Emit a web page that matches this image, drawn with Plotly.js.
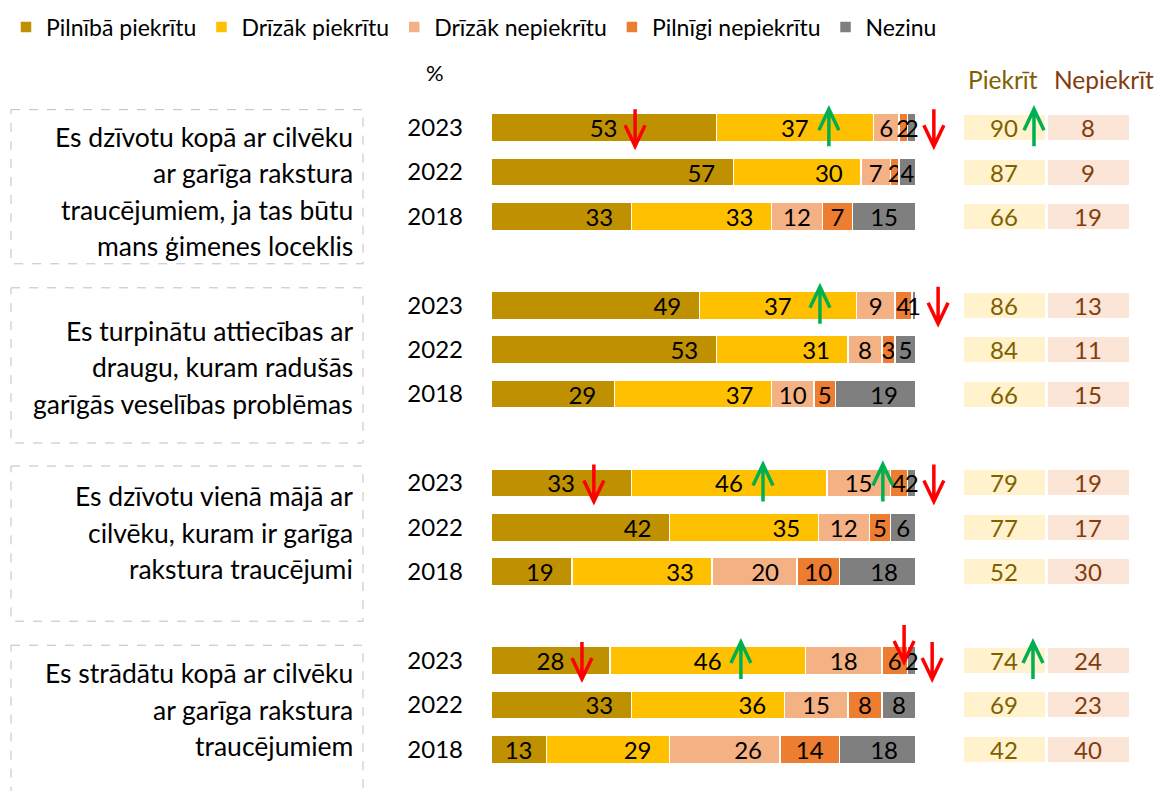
<!DOCTYPE html>
<html>
<head>
<meta charset="utf-8">
<script src="https://cdn.plot.ly/plotly-3.0.1.min.js"></script>
<style>html,body{margin:0;padding:0;background:#fff;}#chart{width:1159px;height:791px;}</style>
</head>
<body>
<div id="chart"></div>
<script>
// ---------- DATA ----------
const statements = [
  ['Es dzīvotu kopā ar cilvēku', 'ar garīga rakstura', 'traucējumiem, ja tas būtu', 'mans ģimenes loceklis'],
  ['Es turpinātu attiecības ar', 'draugu, kuram radušās', 'garīgās veselības problēmas'],
  ['Es dzīvotu vienā mājā ar', 'cilvēku, kuram ir garīga', 'rakstura traucējumi'],
  ['Es strādātu kopā ar cilvēku', 'ar garīga rakstura', 'traucējumiem']
];
const years = ['2023', '2022', '2018'];
const seriesNames = ['Pilnībā piekrītu', 'Drīzāk piekrītu', 'Drīzāk nepiekrītu', 'Pilnīgi nepiekrītu', 'Nezinu'];
// values per row: statement 1 (2023, 2022, 2018), statement 2 (...), ...
const pilnibaPiekritu   = [53, 57, 33, 49, 53, 29, 33, 42, 19, 28, 33, 13];
const drizakPiekritu    = [37, 30, 33, 37, 31, 37, 46, 35, 33, 46, 36, 29];
const drizakNepiekritu  = [ 6,  7, 12,  9,  8, 10, 15, 12, 20, 18, 15, 26];
const pilnigiNepiekritu = [ 2,  2,  7,  4,  3,  5,  4,  5, 10,  6,  8, 14];
const nezinu            = [ 2,  4, 15,  1,  5, 19,  2,  6, 18,  2,  8, 18];
const piekrit   = [90, 87, 66, 86, 84, 66, 79, 77, 52, 74, 69, 42];
const nepiekrit = [ 8,  9, 19, 13, 11, 15, 19, 17, 30, 24, 23, 40];
// trend markers: row index, position on axis, direction
const trendMarks = [
  {row: 0, axis: 'x',  at: 33.9,  dir: 'down'},
  {row: 0, axis: 'x',  at: 79.5,  dir: 'up'},
  {row: 0, axis: 'x',  at: 104.2, dir: 'down'},
  {row: 0, axis: 'x2', at: 0.857, dir: 'up'},
  {row: 4, axis: 'x',  at: 77.4,  dir: 'up'},
  {row: 4, axis: 'x',  at: 105.2, dir: 'down'},
  {row: 8, axis: 'x',  at: 24.2,  dir: 'down'},
  {row: 8, axis: 'x',  at: 64.0,  dir: 'up'},
  {row: 8, axis: 'x',  at: 92.2,  dir: 'up'},
  {row: 8, axis: 'x',  at: 104.2, dir: 'down'},
  {row: 12, axis: 'x', at: 21.4,  dir: 'down'},
  {row: 12, axis: 'x', at: 58.8,  dir: 'up'},
  {row: 12, axis: 'x', at: 97.2,  dir: 'down', lift: 17},
  {row: 12, axis: 'x', at: 103.8, dir: 'down'},
  {row: 12, axis: 'x2', at: 0.845, dir: 'up'}
];

// ---------- LAYOUT HELPERS ----------
const W = 1159, H = 791, T = 101.4, B = 15.4;
const plotH = H - T - B;
const px = x => x / W;
const py = y => (H - B - y) / plotH;
const FONT = 'Lato, "Open Sans", sans-serif';
const colors = ['#BF9000', '#FFC000', '#F4B183', '#ED7D31', '#7F7F7F'];
const allSeries = [pilnibaPiekritu, drizakPiekritu, drizakNepiekritu, pilnigiNepiekritu, nezinu];

const axes = {
  x:  {domain: [px(491), px(916)], range: [0, 100]},
  x2: {domain: [px(962), px(1130)], range: [0, 2]}
};
const toPaper = (ax, v) => {
  const a = axes[ax];
  return a.domain[0] + (v - a.range[0]) / (a.range[1] - a.range[0]) * (a.domain[1] - a.domain[0]);
};

const rowPos = [], rowYear = [];
statements.forEach((s, g) => years.forEach((yr, k) => { rowPos.push(g * 4 + k); rowYear.push(yr); }));

const BARW = 0.63;
const PAD = '\u2002\u2009';
// centred labels in the 2023 rows (room for markers) and in narrow segments
const centred = (r, s, v) => v <= 14 || (rowPos[r] % 4 === 0 && !(rowPos[r] === 4 && s === 0));

const traces = [];
allSeries.forEach((vals, s) => {
  const groups = {end: {x: [], y: [], t: []}, mid: {x: [], y: [], t: []}};
  vals.forEach((v, r) => {
    const c = centred(r, s, v);
    const gname = c ? 'mid' : 'end';
    groups[gname].x.push(v);
    groups[gname].y.push(rowPos[r]);
    groups[gname].t.push(c ? String(v) : String(v) + PAD);
  });
  ['mid', 'end'].forEach((gname, gi) => {
    const gd = groups[gname];
    if (!gd.x.length) return;
    traces.push({
      type: 'bar', orientation: 'h', name: seriesNames[s],
      x: gd.x, y: gd.y, text: gd.t, width: BARW,
      textposition: 'inside', insidetextanchor: gname === 'mid' ? 'middle' : 'end',
      constraintext: 'none', textangle: 0,
      textfont: {family: FONT, size: 24, color: '#000'},
      marker: {color: colors[s], line: {color: '#fff', width: 1.5}},
      legendgroup: 's' + s, showlegend: gi === 0, legendrank: s,
      hoverinfo: 'skip', cliponaxis: false
    });
  });
});

// summary table columns
[[piekrit, '#FFF2CC', '#7F6000', 0], [nepiekrit, '#FBE5D6', '#843C0C', 1]].forEach(([vals, bg, fg, base]) => {
  traces.push({
    type: 'bar', orientation: 'h', xaxis: 'x2', yaxis: 'y',
    x: vals.map(() => 1), base: base, y: rowPos, text: vals.map(String), width: BARW,
    textposition: 'inside', insidetextanchor: 'middle', constraintext: 'none', textangle: 0,
    textfont: {family: FONT, size: 24, color: fg},
    marker: {color: bg, line: {color: '#fff', width: 3}},
    showlegend: false, hoverinfo: 'skip'
  });
});

const shapes = [];
const annotations = [];
// statement boxes
const boxes = [[110, 264], [288, 443], [466, 621], [645, 800]];
const firstLine = [137, 331, 496, 673];
const lineStep = 36.5;
statements.forEach((lines, g) => {
  shapes.push({type: 'rect', xref: 'paper', yref: 'paper', x0: px(11), x1: px(363), y0: py(boxes[g][0]), y1: py(boxes[g][1]),
    line: {color: '#BFBFBF', width: 1, dash: 'dash'}, layer: 'below'});
  lines.forEach((ln, i) => annotations.push({
    xref: 'paper', yref: 'paper', x: px(355), y: py(firstLine[g] + i * lineStep), xanchor: 'right', yanchor: 'middle',
    text: ln, showarrow: false, font: {family: FONT, size: 26.5, color: '#000'}
  }));
});
annotations.push({xref: 'paper', yref: 'paper', x: px(435), y: py(73), text: '%', showarrow: false,
  xanchor: 'center', yanchor: 'middle', font: {family: FONT, size: 22, color: '#000'}});
annotations.push({xref: 'paper', yref: 'paper', x: px(1003), y: py(80), text: 'Piekrīt', showarrow: false,
  xanchor: 'center', yanchor: 'middle', font: {family: FONT, size: 24.5, color: '#7F6000'}});
annotations.push({xref: 'paper', yref: 'paper', x: px(1104), y: py(80), text: 'Nepiekrīt', showarrow: false,
  xanchor: 'center', yanchor: 'middle', font: {family: FONT, size: 24.5, color: '#843C0C'}});

// trend arrows
trendMarks.forEach(m => {
  const L = 18.5, o = m.lift || 0;
  const path = m.dir === 'down'
    ? `M0,${L + o} L0,${-L + o} M-10,${-L + 21 + o} L0,${-L + o} L10,${-L + 21 + o}`
    : `M0,${-L + o} L0,${L + o} M-10,${L - 21 + o} L0,${L + o} L10,${L - 21 + o}`;
  shapes.push({type: 'path', xref: 'paper', yref: 'y', xsizemode: 'pixel', ysizemode: 'pixel',
    xanchor: toPaper(m.axis, m.at), yanchor: m.row, path: path,
    line: {color: m.dir === 'down' ? '#FF0000' : '#00B050', width: 3.5}, layer: 'above'});
});

const layout = {
  width: W, height: H,
  margin: {l: 0, r: 0, t: T, b: B, pad: 0},
  paper_bgcolor: '#fff', plot_bgcolor: '#fff',
  barmode: 'stack',
  showlegend: true,
  legend: {orientation: 'h', x: px(6), xanchor: 'left', y: py(6), yanchor: 'top',
    font: {family: FONT, size: 23, color: '#000'}, traceorder: 'normal', itemclick: false, itemdoubleclick: false},
  xaxis: {domain: axes.x.domain, range: axes.x.range, visible: false, fixedrange: true},
  xaxis2: {domain: axes.x2.domain, range: axes.x2.range, visible: false, anchor: 'y', fixedrange: true},
  yaxis: {range: [14.6, -0.6], tickvals: rowPos, ticktext: rowYear, ticks: '', showgrid: false, zeroline: false,
    showline: false, ticklabelstandoff: 27, tickfont: {family: FONT, size: 24, color: '#000'}, fixedrange: true},
  shapes: shapes, annotations: annotations,
  font: {family: FONT}
};

Plotly.newPlot('chart', traces, layout, {displayModeBar: false, staticPlot: true});
</script>
</body>
</html>
